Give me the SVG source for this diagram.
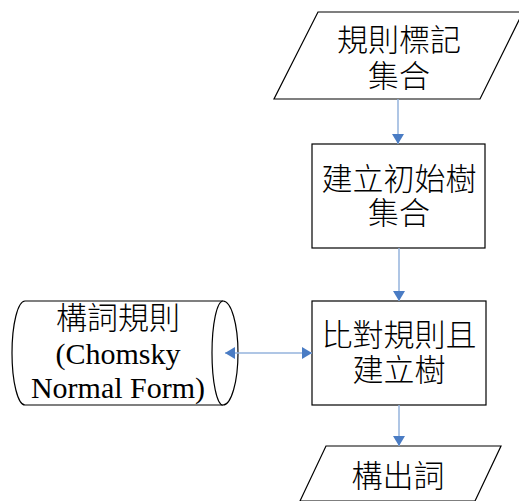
<svg xmlns="http://www.w3.org/2000/svg" width="519" height="501" viewBox="0 0 519 501">
<style>
.shape{fill:#fff;stroke:#000;stroke-width:1.2}
.conn{stroke:#95b3dd;stroke-width:1.5;fill:none}
.t{font-family:"Liberation Serif","Noto Sans CJK TC",serif;font-size:30px;fill:#000;text-anchor:middle}
.c{font-size:31px;font-weight:300}
</style>
<defs>
<marker id="ah" viewBox="0 0 10 12" refX="10" refY="6" markerWidth="11" markerHeight="12" markerUnits="userSpaceOnUse" orient="auto-start-reverse">
<path d="M0,0 L10,6 L0,12 Z" fill="#4a7cc4"/>
</marker>
</defs>
<rect width="519" height="501" fill="#fff"/>
<g id="n1">
<path class="shape" d="M318,12 L523,12 L480,99 L274,99 Z"/>
<text class="t c" x="399" y="51">規則標記</text>
<text class="t c" x="399" y="87">集合</text>
</g>
<g id="n2">
<rect class="shape" x="312" y="144" width="173" height="104"/>
<text class="t c" x="399" y="190">建立初始樹</text>
<text class="t c" x="399" y="224">集合</text>
</g>
<g id="n3">
<rect class="shape" x="312" y="301" width="174" height="104"/>
<text class="t c" x="399" y="346">比對規則且</text>
<text class="t c" x="399" y="381">建立樹</text>
</g>
<g id="n4">
<path class="shape" d="M326,446 L501,446 L475,501 L300,501 Z"/>
<text class="t c" x="398" y="487">構出詞</text>
</g>
<g id="n5">
<path class="shape" d="M25,301 L223,301 A15,52 0 0 1 223,405 L25,405 A13,52 0 0 1 25,301 Z"/>
<path class="shape" fill="none" d="M223,301 A11,52 0 0 0 223,405"/>
<text class="t c" x="118" y="329">構詞規則</text>
<text class="t" x="118" y="364">(Chomsky</text>
<text class="t" x="118" y="398">Normal Form)</text>
</g>
<g id="connectors">
<line class="conn" x1="398" y1="99" x2="398" y2="144" marker-end="url(#ah)"/>
<line class="conn" x1="399" y1="248" x2="399" y2="301" marker-end="url(#ah)"/>
<line class="conn" x1="399" y1="405" x2="399" y2="446" marker-end="url(#ah)"/>
<line class="conn" x1="225" y1="353" x2="312" y2="353" marker-start="url(#ah)" marker-end="url(#ah)"/>
</g>
</svg>
